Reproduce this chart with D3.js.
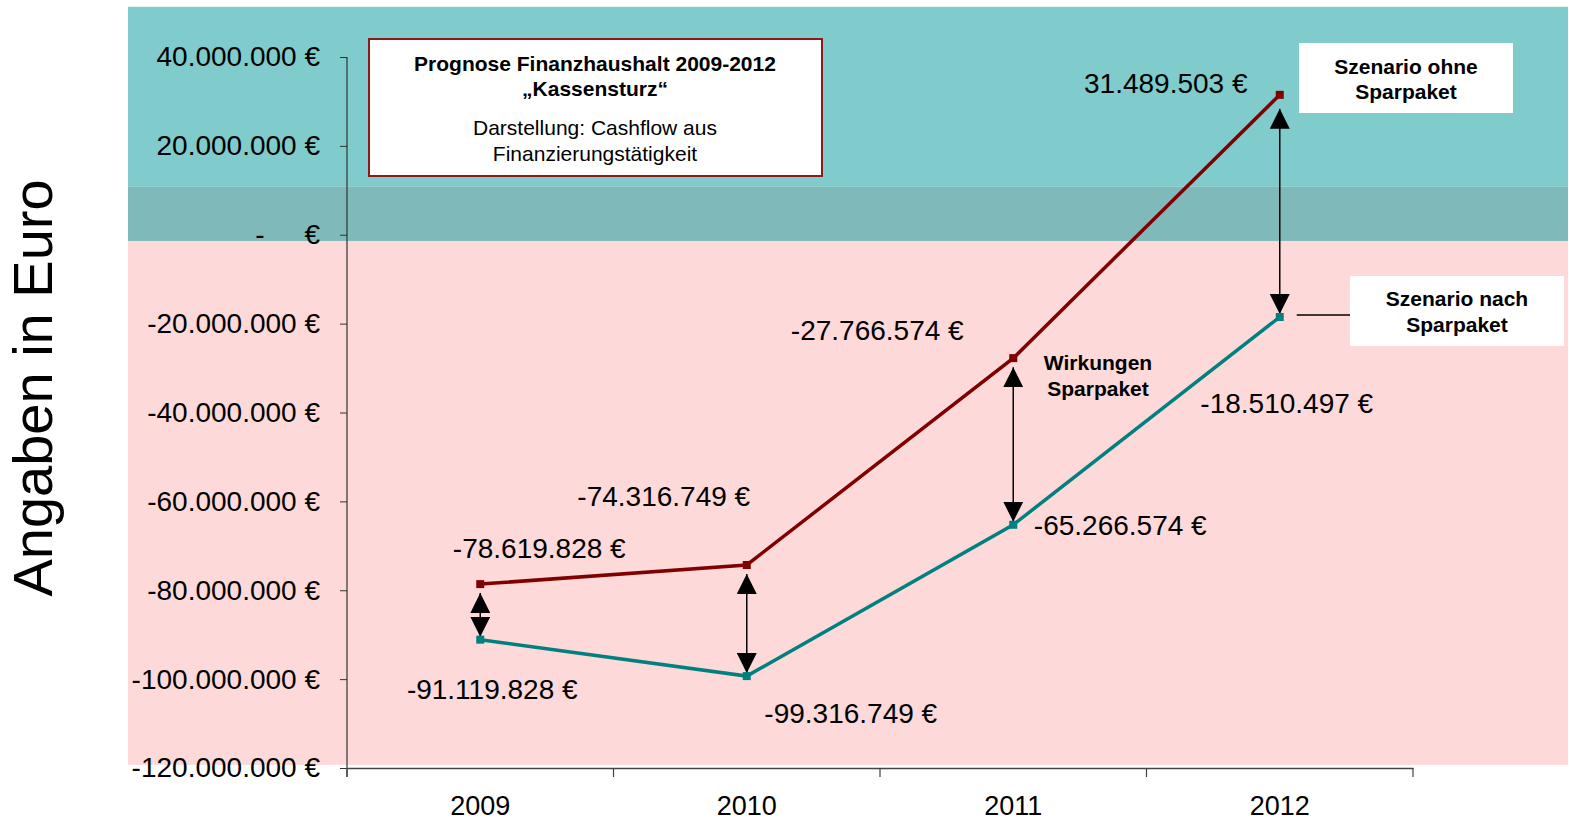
<!DOCTYPE html>
<html>
<head>
<meta charset="utf-8">
<script src="https://cdn.jsdelivr.net/npm/d3@7"></script>
<style>
  body { margin: 0; padding: 0; background: white; }
  text { font-family: "Liberation Sans", Arial, sans-serif; }
</style>
</head>
<body>
<div id="chart"></div>
<script>
const width = 1569;
const height = 822;

// data
const years = ["2009", "2010", "2011", "2012"];
const ohneSparpaket = [-78619828, -74316749, -27766574, 31489503];
const nachSparpaket = [-91119828, -99316749, -65266574, -18510497];
const yTicks = [40000000, 20000000, 0, -20000000, -40000000, -60000000, -80000000, -100000000, -120000000];
// background zones (value bounds), top to bottom
const zoneBounds = [51300000, 10800000, -1400000, -119300000];
const zoneColors = ["#80cbcc", "#80b9ba", "#fdd9d9"];

// label offsets from their point (layout only)
const ohneLabelOffsets = [[59, -36], [-83, -69], [-136, -28], [-114, -12]];
const nachLabelOffsets = [[12, 50], [104, 37], [107, 0], [7, 86]];

const red = "#800000";
const teal = "#008080";

const locale = d3.formatLocale({ decimal: ",", thousands: ".", grouping: [3], currency: ["", ""], minus: "-" });
const fmt = locale.format(",.0f");
const euro = (v) => fmt(v) + " €";

const svg = d3.select("#chart").append("svg")
  .attr("width", width)
  .attr("height", height);

const x = d3.scaleBand().domain(years).range([347, 1413]);
const y = d3.scaleLinear().domain([-120000000, 40000000]).range([768, 57]);
const cx = (d) => x(d) + x.bandwidth() / 2;

// background zones
svg.selectAll(".zone")
  .data(zoneColors)
  .enter()
  .append("rect")
  .attr("class", "zone")
  .attr("x", 128)
  .attr("width", width - 1 - 128)
  .attr("y", (d, i) => y(zoneBounds[i]))
  .attr("height", (d, i) => y(zoneBounds[i + 1]) - y(zoneBounds[i]))
  .attr("fill", (d) => d);

// y axis
const yAxis = svg.append("g")
  .attr("transform", "translate(347,0)")
  .call(d3.axisLeft(y).tickValues(yTicks).tickSize(7).tickPadding(20)
    .tickFormat((d) => d === 0 ? "€" : euro(d)));
yAxis.select(".domain").remove();
yAxis.selectAll(".tick line").attr("stroke", "#333");
yAxis.selectAll(".tick text")
  .attr("fill", "black")
  .style("font-size", "28px")
  .style("font-family", "'Liberation Sans', Arial, sans-serif");
// accounting style dash for zero
yAxis.selectAll(".tick").filter((d) => d === 0)
  .append("text")
  .attr("x", -87)
  .attr("dy", "0.32em")
  .attr("text-anchor", "middle")
  .attr("fill", "black")
  .style("font-size", "28px")
  .text("-");

svg.append("line")
  .attr("x1", 347).attr("x2", 347)
  .attr("y1", y(40000000)).attr("y2", y(-120000000) + 9)
  .attr("stroke", "#333")
  .attr("stroke-width", 1.2);

// x axis
const xAxis = svg.append("g")
  .attr("transform", "translate(0," + y(-120000000) + ")")
  .call(d3.axisBottom(x).tickSize(0).tickPadding(28));
xAxis.select(".domain").attr("stroke", "#444").attr("stroke-width", 1.5);
xAxis.selectAll(".tick text")
  .attr("fill", "black")
  .style("font-size", "27px")
  .style("font-family", "'Liberation Sans', Arial, sans-serif");

svg.append("g")
  .selectAll("line")
  .data(d3.range(years.length + 1))
  .enter()
  .append("line")
  .attr("x1", (i) => x.range()[0] + i * x.bandwidth())
  .attr("x2", (i) => x.range()[0] + i * x.bandwidth())
  .attr("y1", y(-120000000))
  .attr("y2", y(-120000000) + 9)
  .attr("stroke", "#444")
  .attr("stroke-width", 1.2);

// y title
svg.append("text")
  .attr("transform", "translate(52,388) rotate(-90)")
  .attr("text-anchor", "middle")
  .style("font-size", "56px")
  .attr("fill", "black")
  .text("Angaben in Euro");

// arrow markers
const defs = svg.append("defs");
defs.append("marker")
  .attr("id", "head")
  .attr("markerUnits", "userSpaceOnUse")
  .attr("viewBox", "0 0 20 20")
  .attr("markerWidth", 20)
  .attr("markerHeight", 20)
  .attr("refX", 20)
  .attr("refY", 10)
  .attr("orient", "auto-start-reverse")
  .append("path")
  .attr("d", "M0,0 L20,10 L0,20 Z")
  .attr("fill", "black");

// difference arrows
svg.append("g")
  .selectAll("line")
  .data(years)
  .enter()
  .append("line")
  .attr("x1", (d) => cx(d))
  .attr("x2", (d) => cx(d))
  .attr("y1", (d, i) => y(ohneSparpaket[i]) + (i === 3 ? 14 : 9))
  .attr("y2", (d, i) => y(nachSparpaket[i]) - 3)
  .attr("stroke", "black")
  .attr("stroke-width", 1.5)
  .attr("marker-start", "url(#head)")
  .attr("marker-end", "url(#head)");

// lines
const line = d3.line().x((d, i) => cx(years[i])).y((d) => y(d));

function drawSeries(values, color, offsets) {
  svg.append("path")
    .datum(values)
    .attr("d", line)
    .attr("fill", "none")
    .attr("stroke", color)
    .attr("stroke-width", 3.5);

  svg.append("g")
    .selectAll("rect")
    .data(values)
    .enter()
    .append("rect")
    .attr("x", (d, i) => cx(years[i]) - 4)
    .attr("y", (d) => y(d) - 4)
    .attr("width", 8)
    .attr("height", 8)
    .attr("fill", color);

  svg.append("g")
    .selectAll("text")
    .data(values)
    .enter()
    .append("text")
    .attr("x", (d, i) => cx(years[i]) + offsets[i][0])
    .attr("y", (d, i) => y(d) + offsets[i][1])
    .attr("dy", "0.35em")
    .attr("text-anchor", "middle")
    .style("font-size", "28px")
    .attr("fill", "black")
    .text((d) => euro(d));
}

drawSeries(ohneSparpaket, red, ohneLabelOffsets);
drawSeries(nachSparpaket, teal, nachLabelOffsets);

// text boxes
function box(x0, y0, w, h, stroke) {
  svg.append("rect")
    .attr("x", x0).attr("y", y0)
    .attr("width", w).attr("height", h)
    .attr("fill", "white")
    .attr("stroke", stroke || "none")
    .attr("stroke-width", 2);
}

function lines(cxPos, ys, texts, bold) {
  texts.forEach(function (t, i) {
    svg.append("text")
      .attr("x", cxPos)
      .attr("y", ys[i])
      .attr("dy", "0.35em")
      .attr("text-anchor", "middle")
      .style("font-size", "21px")
      .style("font-weight", bold ? "bold" : "normal")
      .attr("fill", "black")
      .text(t);
  });
}

box(369, 39, 453, 137, "#8b1a1a");
lines(595, [64, 89], ["Prognose Finanzhaushalt 2009-2012", "„Kassensturz“"], true);
lines(595, [128, 154], ["Darstellung: Cashflow aus", "Finanzierungstätigkeit"], false);

box(1299, 43, 214, 70);
lines(1406, [67, 92], ["Szenario ohne", "Sparpaket"], true);

box(1350, 276, 214, 70);
lines(1457, [299, 325], ["Szenario nach", "Sparpaket"], true);

svg.append("line")
  .attr("x1", cx("2012") + 17)
  .attr("x2", 1350)
  .attr("y1", y(nachSparpaket[3]) - 2)
  .attr("y2", y(nachSparpaket[3]) - 2)
  .attr("stroke", "black")
  .attr("stroke-width", 1.5);

lines(1098, [363, 389], ["Wirkungen", "Sparpaket"], true);
</script>
</body>
</html>
